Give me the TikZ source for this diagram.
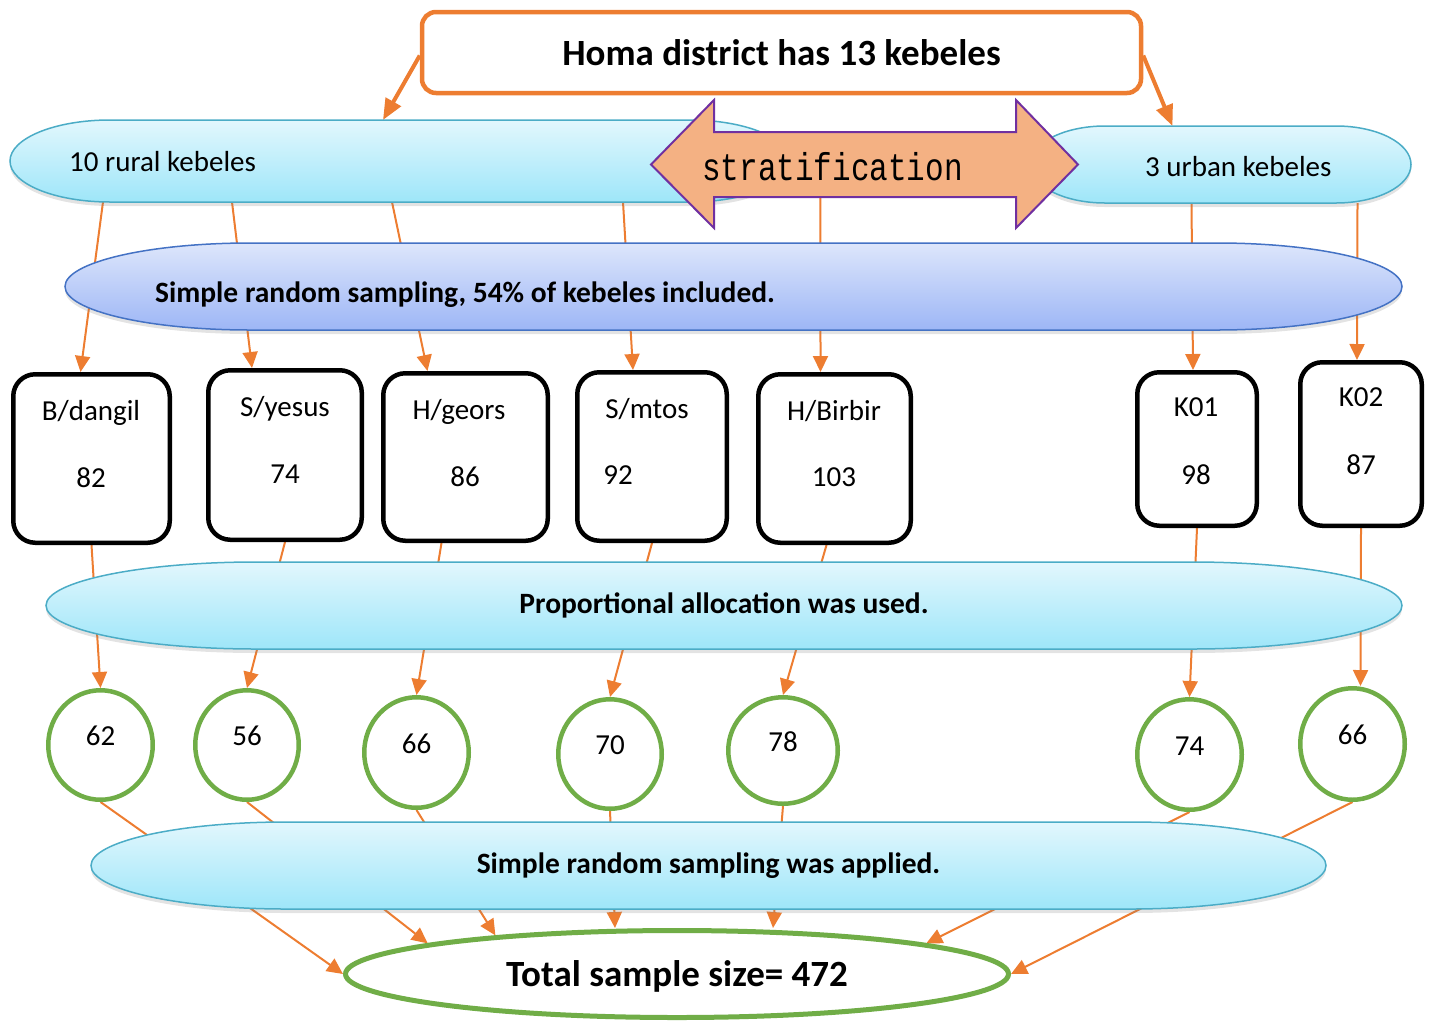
\documentclass[tikz,border=0pt]{standalone}
\usepackage{fontspec}
\setmainfont{Carlito}
\newfontfamily\stratfont{Liberation Mono}
\usetikzlibrary{shapes.geometric,arrows.meta,shadows}
\definecolor{orng}{HTML}{ED7D31}
\definecolor{grn}{HTML}{70AD47}
\definecolor{cyantop}{HTML}{E2F7FD}
\definecolor{cyanbot}{HTML}{9EE6F9}
\definecolor{cyanline}{HTML}{4BACC6}
\definecolor{bluetop}{HTML}{DDE6FB}
\definecolor{bluebot}{HTML}{9DB6F6}
\definecolor{blueline}{HTML}{4472C4}
\definecolor{stratfill}{HTML}{F4B183}
\definecolor{stratline}{HTML}{7030A0}
\pgfdeclarelayer{bg}
\pgfdeclarelayer{mid}
\pgfsetlayers{bg,mid,main}
% band outline: node, end radius, half height, look
\newcommand{\bandpath}[4]{%
  \begin{pgfonlayer}{mid}
  \path[#4] ([xshift=#2]#1.north west) -- ([xshift=-#2]#1.north east)
    arc[start angle=90, end angle=-90, x radius=#2, y radius=#3]
    -- ([xshift=#2]#1.south west)
    arc[start angle=270, end angle=90, x radius=#2, y radius=#3] -- cycle;
  \end{pgfonlayer}}

\begin{document}
\begin{tikzpicture}[x=1pt, y=-1pt, font=\fontsize{29}{35}\selectfont]
  \tikzset{band/.style={rectangle, outer sep=0pt, inner sep=0pt},
    cyanband/.style={draw=cyanline, line width=1.5pt, top color=cyantop, bottom color=cyanbot,
      drop shadow={shadow xshift=0pt, shadow yshift=-4pt, opacity=0.22}},
    blueband/.style={draw=blueline, line width=1.5pt, top color=bluetop, bottom color=bluebot,
      drop shadow={shadow xshift=0pt, shadow yshift=-4pt, opacity=0.22}},
    ktxt/.style={anchor=base, inner sep=0pt},
    kbox/.style={draw, line width=4.5pt, rounded corners=22pt, fill=white},
    kcirc/.style={ellipse, draw=grn, line width=4.5pt, fill=white, inner sep=0pt,
      text height=18pt, text depth=16.5pt},
    link/.style={draw=orng, line width=2pt, -{Triangle[length=16pt, width=15pt]}},
    biglink/.style={draw=orng, line width=4pt, -{Triangle[length=21pt, width=17pt]}}}
  \useasboundingbox (0,0) rectangle (1434,1021);

  % district
  \node[draw=orng, line width=4.5pt, rounded corners=14pt, fill=white, minimum width=719pt,
    minimum height=81pt, font=\fontsize{37}{44}\selectfont\bfseries] (homa) at (781.5,52.5)
    {Homa district has 13 kebeles};

  % strata
  \node[band, minimum width=780pt, minimum height=82pt] (rural) at (400,161) {};
  \node[ktxt, anchor=base west] (ruraltxt) at (69,171) {10 rural kebeles};
  \node[band, minimum width=381pt, minimum height=77pt] (urban) at (1220.5,164.5) {};
  \node[ktxt, anchor=base west] (urbantxt) at (1145,176) {3 urban kebeles};
  \filldraw[fill=stratfill, draw=stratline, line width=2pt] (651,164.5) -- (714,100) -- (714,132)
    -- (1016,132) -- (1016,100) -- (1078,164.5) -- (1016,228) -- (1016,197) -- (714,197)
    -- (714,228) -- cycle;
  \node[anchor=base west, inner sep=0pt, font=\stratfont\fontsize{31}{37}\selectfont] (strat)
    at (702,180) {\scalebox{1}[1.25]{stratification}};

  % first sampling
  \node[band, minimum width=1337pt, minimum height=87pt] (srs) at (733.5,286.5) {};
  \node[ktxt, anchor=base west, font=\fontsize{29.5}{35}\selectfont\bfseries] (srstxt)
    at (155,302) {Simple random sampling, 54\% of kebeles included.};

  % selected kebeles
  \node[kbox, minimum width=156.5pt, minimum height=168.5pt] (b1) at (91.5,458.5) {};
  \node[ktxt] (b1n) at (91,420) {B/dangil};
  \node[ktxt] (b1v) at (91,487) {82};
  \node[kbox, minimum width=153.5pt, minimum height=169.5pt] (b2) at (285,455) {};
  \node[ktxt] (b2n) at (285,416) {S/yesus};
  \node[ktxt] (b2v) at (285,483) {74};
  \node[kbox, minimum width=164.5pt, minimum height=167.5pt] (b3) at (465.5,457) {};
  \node[ktxt] (b3n) at (459,419) {H/geors};
  \node[ktxt] (b3v) at (465,486) {86};
  \node[kbox, minimum width=149.5pt, minimum height=168.5pt] (b4) at (652,456.5) {};
  \node[ktxt] (b4n) at (647,418) {S/mtos};
  \node[ktxt] (b4v) at (618,484) {92};
  \node[kbox, minimum width=152.5pt, minimum height=168.5pt] (b5) at (834.5,458.5) {};
  \node[ktxt] (b5n) at (834,420) {H/Birbir};
  \node[ktxt] (b5v) at (834,486) {103};
  \node[kbox, minimum width=119.5pt, minimum height=153.5pt] (b6) at (1197,449) {};
  \node[ktxt] (b6n) at (1196,416) {K01};
  \node[ktxt] (b6v) at (1196,484) {98};
  \node[kbox, minimum width=121.5pt, minimum height=163.5pt] (b7) at (1361,444) {};
  \node[ktxt] (b7n) at (1361,406) {K02};
  \node[ktxt] (b7v) at (1361,474) {87};

  % allocation
  \node[band, minimum width=1356pt, minimum height=87pt, font=\fontsize{29.5}{35}\selectfont\bfseries]
    (prop) at (724,605.5) {Proportional allocation was used.};

  % sample per kebele
  \node[kcirc, minimum width=104.5pt, minimum height=109.5pt] (c1) at (100.5,745) {62};
  \node[kcirc, minimum width=103.5pt, minimum height=109.5pt] (c2) at (247,745) {56};
  \node[kcirc, minimum width=104.5pt, minimum height=110.5pt] (c3) at (416.5,752.5) {66};
  \node[kcirc, minimum width=103.5pt, minimum height=109.5pt] (c4) at (610,754) {70};
  \node[kcirc, minimum width=109.5pt, minimum height=106.5pt] (c5) at (783,750.5) {78};
  \node[kcirc, minimum width=104.5pt, minimum height=110.5pt] (c6) at (1189.5,754.5) {74};
  \node[kcirc, minimum width=104.5pt, minimum height=111.5pt] (c7) at (1352.5,744) {66};

  % second sampling and total
  \node[band, minimum width=1235pt, minimum height=87pt, font=\fontsize{29.5}{35}\selectfont\bfseries]
    (srs2) at (708.5,865.5) {Simple random sampling was applied.};
  \node[ellipse, draw=grn, line width=5pt, fill=white, inner sep=0pt, minimum width=663pt,
    minimum height=87pt, text depth=0pt, font=\fontsize{37}{44}\selectfont\bfseries] (total)
    at (677,974) {Total sample size= 472};

  % bands
  \bandpath{rural}{100pt}{41pt}{cyanband}
  \bandpath{urban}{75pt}{38.5pt}{cyanband}
  \bandpath{srs}{185pt}{43.5pt}{blueband}
  \bandpath{prop}{210pt}{43.5pt}{cyanband}
  \bandpath{srs2}{195pt}{43.5pt}{cyanband}

  % connectors, behind everything
  \begin{pgfonlayer}{bg}
  \draw[biglink] ([yshift=-3pt]homa.west) -- ([xshift=-17pt]rural.north);
  \draw[biglink] ([yshift=-3pt]homa.east) -- ([xshift=-48pt]urban.north);
  \draw[link] ([xshift=-297pt]rural.south) -- ([xshift=-11pt]b1.north);
  \draw[link] ([xshift=-168pt]rural.south) -- ([xshift=-33pt]b2.north);
  \draw[link] ([xshift=-8pt]rural.south) -- ([xshift=-38pt]b3.north);
  \draw[link] ([xshift=223pt]rural.south) -- ([xshift=-19pt]b4.north);
  \draw[link] ([xshift=-12pt]strat.south) -- ([xshift=-14pt]b5.north);
  \draw[link] ([xshift=-29pt]urban.south) -- ([xshift=-4pt]b6.north);
  \draw[link] ([xshift=137pt]urban.south) -- ([xshift=-4pt]b7.north);
  \draw[link] (b1.south) -- (c1.north);
  \draw[link] (b2.south) -- (c2.north);
  \draw[link] ([xshift=-24pt]b3.south) -- (c3.north);
  \draw[link] (b4.south) -- (c4.north);
  \draw[link] ([xshift=-8pt]b5.south) -- (c5.north);
  \draw[link] (b6.south) -- (c6.north);
  \draw[link] (b7.south) -- ([xshift=8pt]c7.north);
  \draw[link] (c1.south) -- (total.west);
  \draw[link] (c2.south) -- (total.173);
  \draw[link] (c3.south) -- (total.168);
  \draw[link] (c4.south) -- ([xshift=-62pt]total.north);
  \draw[link] (c5.south) -- ([xshift=96pt]total.north);
  \draw[link] (c6.south) -- (total.7);
  \draw[link] (c7.south) -- (total.east);
  \end{pgfonlayer}
\end{tikzpicture}
\end{document}
